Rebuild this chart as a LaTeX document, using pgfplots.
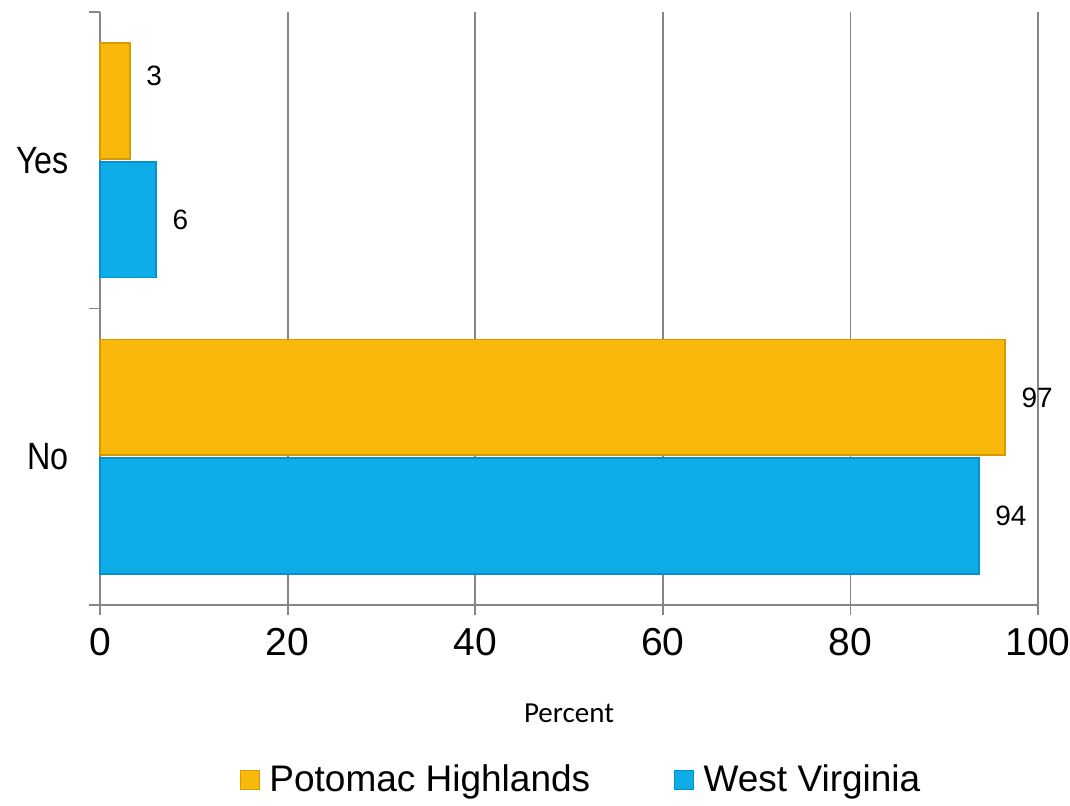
\documentclass[border=0pt]{standalone}
\usepackage{fontspec}
\setmainfont{Liberation Sans}
\newfontfamily\calibri{Carlito}
\newfontfamily\condensed[FakeStretch=0.85]{Liberation Sans}
\usepackage{pgfplots}
\usepackage{pgfplotstable}
\pgfplotsset{compat=1.18}
\definecolor{phcol}{RGB}{249,185,12}
\definecolor{phdark}{RGB}{215,155,0}
\definecolor{wvcol}{RGB}{12,173,232}
\definecolor{wvdark}{RGB}{8,145,200}
\definecolor{gridgray}{RGB}{134,134,134}

\pgfplotstableread{
cat x label dy
0 96.5 97 29.65
1 3.2 3 42.15
}\ph
\pgfplotstableread{
cat x label dy
0 93.7 94 -29.65
1 6.0 6 -29.65
}\wv

\begin{document}
\begin{tikzpicture}
\begin{axis}[
  scale only axis,
  width=469pt, height=296.5pt,
  xmin=0, xmax=100,
  ymin=-0.5, ymax=1.5,
  axis x line=bottom, axis y line=left,
  axis line style={draw=gridgray, line width=0.9pt, -},
  xtick={0,20,40,60,80,100},
  ytick={0,1}, yticklabels={No,Yes},
  minor ytick={-0.5,0.5,1.5},
  tick align=outside,
  major tick length=5pt, minor tick length=5.5pt,
  major y tick style={draw=none},
  every tick/.style={draw=gridgray, line width=0.9pt},
  minor y tick style={draw=gridgray, line width=0.9pt},
  xmajorgrids,
  major grid style={draw=gridgray, line width=0.9pt},
  /pgf/number format/assume math mode=true,
  xticklabel style={font=\fontsize{19.5}{22}\selectfont, yshift=-3pt},
  yticklabel style={font=\condensed\fontsize{19}{22}\selectfont, xshift=-7pt},
  xlabel={\calibri Percent},
  xlabel style={font=\fontsize{14.5}{17}\selectfont, at={(axis description cs:0.5,-0.182)}, anchor=center},
  legend style={draw=none, at={(axis description cs:0.514,-0.295)}, anchor=center,
    legend columns=2, font=\fontsize{18.5}{22}\selectfont,
    /tikz/every even column/.append style={column sep=40pt},
    cells={anchor=west}},
  legend image code/.code={\draw[#1, line width=0.6pt] (0pt,-4.75pt) rectangle (9.5pt,4.75pt); \path (12pt,0pt);},
  nodes near coords,
  point meta=explicit symbolic,
  visualization depends on={\thisrow{dy} \as \dy},
  nodes near coords style={anchor=west, xshift=4.5pt, yshift=\dy pt, font=\fontsize{14}{16}\selectfont, text=black},
  clip=false,
]
\addplot[xbar, bar width=0.39, bar shift=0.2, fill=phcol, draw=phdark, line width=0.8pt]
  table[x=x, y=cat, meta=label] {\ph};
\addlegendentry{Potomac Highlands}
\addplot[xbar, bar width=0.39, bar shift=-0.2, fill=wvcol, draw=wvdark, line width=0.8pt]
  table[x=x, y=cat, meta=label] {\wv};
\addlegendentry{West Virginia}
\end{axis}
\pgfresetboundingbox
\useasboundingbox ([shift={(-50pt,-100.5pt)}]current axis.south west) rectangle ([shift={(16pt,6pt)}]current axis.north east);
\end{tikzpicture}
\end{document}
